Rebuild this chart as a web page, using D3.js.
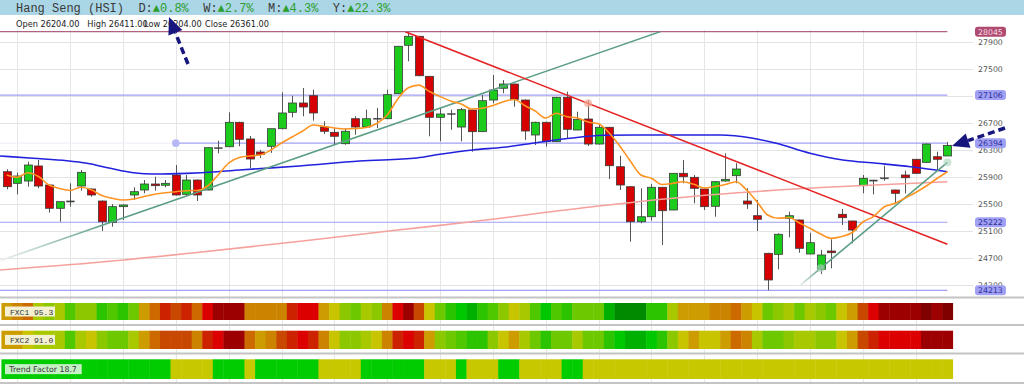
<!DOCTYPE html>
<html><head><meta charset="utf-8">
<script src="https://cdn.jsdelivr.net/npm/d3@7"></script>
<style>html,body{margin:0;padding:0;background:#fff;overflow:hidden}</style>
</head><body><svg id="c" width="1024" height="384"></svg>
<script>
// ---------- DATA ----------
const indexName = "Hang Seng (HSI)";
const changeLabels = ["D:", "W:", "M:", "Y:"];
const changePct = ["0.8%", "2.7%", "4.3%", "22.3%"];
const ohlcLabels = ["Open", "High", "Low", "Close"];
const ohlcLast = ["26204.00", "26411.00", "26204.00", "26361.00"];

const open  = [25971,25799,25833,26056,25774,25429,25527,25759,25715,25537,25221,25453,25626,25700,25789,25770,25922,25636,25848,25700,26318,26341,26703,26456,26263,26347,26608,26851,26989,27097,26633,26555,26386,26756,26633,26756,26756,27127,27844,27977,27384,26777,26826,26633,26885,26564,27033,27207,27270,27033,26515,26703,26416,27073,26589,26752,26381,26629,26045,25749,25230,25304,25740,25404,25947,25888,25715,25459,25833,25912,25537,25319,24762,24747,25281,25256,24752,24525,24796,25340,25241,25764,25838,25873,25700,25922,26155,26110,26193,26204];
const high  = [26007,25956,26119,26144,25780,25527,25799,25996,25725,25545,25493,25488,25740,25848,25897,25848,26070,25922,25855,26330,26430,26851,26710,26500,26293,26610,27147,27097,27211,27186,26718,26618,26618,26792,26890,26915,27186,27835,28045,27985,27390,26915,26890,26915,26890,27107,27404,27330,27275,27040,26712,26710,27080,27156,26860,27033,26663,26635,26208,25755,25725,25789,25745,25950,26144,25922,25725,25833,26244,26096,25725,25552,24770,25058,25378,25260,25067,24811,24970,25419,25245,25922,25850,26060,25705,25986,26160,26390,26267,26411];
const low   = [25710,25636,25749,25725,25364,25230,25453,25690,25601,25093,25156,25256,25552,25651,25690,25740,25620,25626,25537,25695,26244,26335,26347,26026,26174,26250,26600,26777,26792,26727,26530,26371,26371,26519,26618,26618,26750,27120,27607,27385,26496,26421,26593,26421,26267,26560,26984,27133,26934,26441,26367,26341,26410,26466,26585,26352,26375,25863,25700,24934,25207,25245,24885,25400,25799,25503,25404,25304,25823,25799,25419,25093,24213,24525,24999,24771,24750,24456,24540,25181,24910,25651,25636,25838,25503,25651,25940,26105,25996,26204];
const close = [25749,25907,26070,25759,25429,25527,25530,25962,25626,25230,25453,25478,25675,25789,25764,25799,25626,25848,25626,26327,26320,26703,26451,26159,26226,26608,26841,26989,26930,26841,26570,26496,26570,26633,26756,26750,27112,27829,27977,27393,26777,26826,26820,26890,26564,27023,27181,27270,27044,26574,26703,26416,27073,26599,26747,26381,26629,26060,25774,25230,25304,25740,25393,25947,25897,25725,25453,25823,25858,26011,25493,25266,24367,25044,25319,24836,24919,24737,24771,25290,25107,25873,25840,25873,25651,25882,25947,26381,26155,26361];

// orange short moving average, read at every candle
const maShort = [25922,25888,25956,25900,25774,25722,25693,25740,25703,25618,25577,25552,25567,25604,25638,25660,25675,25690,25693,25759,25922,26100,26181,26204,26218,26293,26396,26485,26574,26663,26641,26618,26604,26611,26626,26685,26811,27048,27214,27253,27159,27085,27019,26974,26900,26910,26952,27008,27041,26952,26870,26767,26836,26786,26767,26707,26681,26544,26352,26130,25922,25873,25781,25798,25823,25784,25730,25752,25781,25823,25700,25522,25330,25281,25293,25211,25133,25048,24984,25011,25070,25226,25307,25448,25500,25581,25663,25759,25870,25971];
// blue medium moving average (candle index, value)
const maMidIdx = [-0.63,2.5,5.7,7.6,9.8,12,13.9,17,19.9,22,27.7,33.4,38.8,41,44.1,47,50.1,53.3,56.4,59.6,62.8,67.5,70.6,72.8,76,79.1,82.3,85.5,89];
const maMidVal = [26204,26170,26134,26096,26021,25956,25937,25947,25971,25996,26056,26130,26174,26229,26293,26333,26401,26466,26510,26515,26515,26515,26466,26392,26244,26144,26096,26045,25971];
// salmon long moving average
const maLongIdx = [-0.63,9,18,28,37,44,56,67,78,89];
const maLongVal = [24515,24633,24774,24944,25107,25230,25463,25633,25744,25823];

// trend lines (candle index, value)
const resistIdx = [37.7, 89];   const resistVal = [28045, 24898];
const resistMarkIdx = 55;
const support1Idx = [-0.63, 62.2]; const support1Val = [24653, 28065];
const support2Idx = [75, 89];   const support2Val = [24278, 26110];
const support2MarkIdx = [77, 89];

// price axis
const tickVals = [27900,27500,27100,26700,26300,25900,25500,25100,24700,24300];
const topLevel = 28045;
const levels = [27106, 26394, 25222, 24213];
const levelStart = [-0.63, 16, -0.63, -0.63];

// indicator strips (0 = strongest bearish ... 16 = strongest bullish)
const fxc1 = [7,6,5,9,10,9,12,10,10,13,12,13,11,7,5,3,4,3,5,2,1,1,1,6,6,6,6,3,2,2,7,8,10,11,9,10,6,2,1,4,8,11,13,14,15,13,12,10,8,9,12,14,12,13,11,11,11,15,16,16,16,13,13,9,7,7,7,6,6,5,7,8,11,10,9,11,9,10,11,8,7,4,2,1,1,1,1,0,1,0];
const fxc2 = [7,7,8,9,9,9,12,9,8,10,11,11,9,7,5,4,4,4,6,3,2,1,1,5,7,6,4,3,2,3,6,8,10,10,9,8,6,3,2,3,7,10,11,12,13,13,10,8,7,9,11,13,11,11,9,11,11,13,14,15,15,14,13,10,8,7,8,8,7,5,6,9,11,11,10,9,9,10,10,8,7,4,3,2,2,2,2,1,1,1];
const trend = [1,1,1,1,1,1,1,1,1,1,1,1,1,1,1,1,0,0,0,0,1,1,1,0,1,1,1,1,1,1,0,0,0,0,1,1,1,1,1,1,0,0,0,1,0,0,0,1,1,0,0,0,0,1,1,0,0,0,0,0,0,0,0,0,0,0,0,0,0,0,0,0,0,0,0,0,0,0,0,0,0,0,0,0,0,0,0,0,0,0];
const stripLabels = ["FXC1 95.3", "FXC2 91.0", "Trend Factor 18.7"];

// ---------- DRAW ----------
const W = 1024, H = 384;
const svg = d3.select('#c');
const n = open.length;
const x = d3.scaleLinear().domain([0, n - 1]).range([6.7, 947.4]);
const y = d3.scaleLinear().domain([24300, 27900]).range([284.5, 41.5]);
const cw = x(1) - x(0);
const AX = "DejaVu Sans, Verdana, sans-serif";

const defs = svg.append('defs');
defs.append('clipPath').attr('id', 'plot').append('rect')
  .attr('x', 0).attr('y', y(topLevel)).attr('width', 975).attr('height', 297 - y(topLevel));
function grad(id, x1, x2) {
  const g = defs.append('linearGradient').attr('id', id).attr('gradientUnits', 'userSpaceOnUse')
    .attr('x1', x1).attr('x2', x2).attr('y1', 0).attr('y2', 0);
  g.append('stop').attr('offset', 0).attr('stop-color', '#eef1ef');
  g.append('stop').attr('offset', 1).attr('stop-color', '#5c9f84');
}
grad('g1', x(support1Idx[0]), x(9.5));
grad('g2', x(support2Idx[0]), x(77));

// header
svg.append('rect').attr('x', 0).attr('y', 0).attr('width', W).attr('height', 15).attr('fill', '#aad6e6');
const hdr = svg.append('text').attr('y', 11.5).attr('font-family', 'Liberation Mono, monospace')
  .attr('font-size', 12).attr('fill', '#3a3a3a');
hdr.append('tspan').attr('x', 16).text(indexName);
changeLabels.forEach((l, k) => {
  hdr.append('tspan').attr('x', 16 + 7.2 * (17 + 9 * k)).text(l);
  hdr.append('tspan').attr('fill', '#2e9e2e').text('\u25B2' + changePct[k]);
});
const ohlcX = [16, 87.3, 144, 205];
ohlcLabels.forEach((l, k) => {
  svg.append('text').attr('x', ohlcX[k]).attr('y', 26.5).attr('font-family', AX)
    .attr('font-size', 8.2).attr('fill', '#222').text(l + ' ' + ohlcLast[k]);
});

// grid
const grid = svg.append('g');
grid.selectAll('line.h').data(tickVals).enter().append('line')
  .attr('x1', 0).attr('x2', 973).attr('y1', d => Math.round(y(d)) + 0.5).attr('y2', d => Math.round(y(d)) + 0.5)
  .attr('stroke', '#e3e3e3');
grid.selectAll('line.v').data(d3.range(1, n, 5)).enter().append('line')
  .attr('x1', d => Math.round(x(d)) + 0.5).attr('x2', d => Math.round(x(d)) + 0.5)
  .attr('y1', 30).attr('y2', H).attr('stroke', '#e6e6e6');

// axis
const axis = d3.axisRight(y).tickValues(tickVals).tickSize(0).tickPadding(0).tickFormat(d3.format('d'));
const ag = svg.append('g').attr('transform', 'translate(978,0)').call(axis);
ag.select('.domain').remove();
ag.selectAll('text').attr('font-family', AX).attr('font-size', 7.8).attr('fill', '#555');

// level lines
svg.append('line').attr('x1', 0).attr('x2', x(n - 1)).attr('y1', y(topLevel)).attr('y2', y(topLevel))
  .attr('stroke', '#9c3a66').attr('stroke-width', 1);
svg.append('line').attr('x1', 0).attr('x2', x(levelStart[1])).attr('y1', y(levels[1])).attr('y2', y(levels[1]))
  .attr('stroke', '#ececf8').attr('stroke-width', 1);
svg.selectAll('line.lv').data(levels).enter().append('line')
  .attr('x1', (d, k) => Math.max(0, x(levelStart[k]))).attr('x2', x(n - 1))
  .attr('y1', d => y(d)).attr('y2', d => y(d)).attr('stroke', '#a0a0f4').attr('stroke-width', 1.2);
svg.append('circle').attr('cx', x(levelStart[1])).attr('cy', y(levels[1])).attr('r', 3.8).attr('fill', '#b8b8f6');

// strips
const palette = ['#800000','#9c0000','#dc0000','#cc2200','#c84800','#cc6a00','#cc8400','#cc9c00','#c8c400','#a8c800','#8cc800','#6ec800','#50c800','#2cc400','#00c800','#00b000','#008a00'];
const trendCol = ['#c8c800', '#00cc00'];
[297.5, 325, 353.5, 383].forEach(yy => svg.append('line').attr('x1', 0).attr('x2', W)
  .attr('y1', yy).attr('y2', yy).attr('stroke', '#c4c4c4').attr('stroke-width', 2));
const strips = [{v: fxc1, y0: 303, h: 17, col: d => palette[d]},
                {v: fxc2, y0: 330.7, h: 18.3, col: d => palette[d]},
                {v: trend, y0: 359.3, h: 19.7, col: d => trendCol[d]}];
strips.forEach((s, k) => {
  svg.append('g').selectAll('rect').data(s.v).enter().append('rect')
    .attr('x', (d, i) => x(i) - cw / 2).attr('width', cw + 0.4)
    .attr('y', s.y0).attr('height', s.h).attr('fill', s.col);
  const mono = k < 2;
  const bw = mono ? 50 : 76.7;
  svg.append('rect').attr('x', 5).attr('y', s.y0 + s.h / 2 - 5).attr('width', bw).attr('height', 10)
    .attr('fill', mono ? '#f4f0d2' : '#c6f0c6');
  svg.append('text').attr('x', mono ? 10 : 9.3).attr('y', s.y0 + s.h / 2 + 3)
    .attr('font-family', mono ? 'Liberation Mono, monospace' : AX)
    .attr('font-size', mono ? 8 : 7.8).attr('fill', '#333').text(stripLabels[k]);
});

// plot content
const plot = svg.append('g').attr('clip-path', 'url(#plot)');
const lineI = d3.line().x(d => x(d[0])).y(d => y(d[1])).curve(d3.curveMonotoneX);

// candles
const cg = plot.append('g');
d3.range(n).forEach(i => {
  const up = close[i] >= open[i];
  cg.append('line').attr('x1', Math.round(x(i)) + 0.5).attr('x2', Math.round(x(i)) + 0.5)
    .attr('y1', y(high[i])).attr('y2', y(low[i])).attr('stroke', '#555').attr('stroke-width', 1);
  const t = y(Math.max(open[i], close[i])), b = y(Math.min(open[i], close[i]));
  const doji = b - t < 1.2;
  cg.append('rect').attr('x', Math.round(x(i)) - 3.5).attr('width', 8)
    .attr('y', doji ? t - 0.6 : t).attr('height', doji ? 1.2 : b - t)
    .attr('fill', doji ? '#444' : (up ? '#1ccc1c' : '#d60000'))
    .attr('stroke', '#3a3a3a').attr('stroke-width', doji ? 0.3 : 0.8);
});

// moving averages
plot.append('path').attr('d', lineI(maLongIdx.map((d, k) => [d, maLongVal[k]])))
  .attr('fill', 'none').attr('stroke', '#f6a09c').attr('stroke-width', 1.6);
plot.append('path').attr('d', lineI(maMidIdx.map((d, k) => [d, maMidVal[k]])))
  .attr('fill', 'none').attr('stroke', '#2222dd').attr('stroke-width', 1.6);

// trend lines
const lineL = d3.line().x(d => x(d[0])).y(d => y(d[1]));
plot.append('path').attr('d', lineL(support1Idx.map((d, k) => [d, support1Val[k]])))
  .attr('stroke', 'url(#g1)').attr('stroke-width', 1.6).attr('fill', 'none');
plot.append('path').attr('d', lineL(support2Idx.map((d, k) => [d, support2Val[k]])))
  .attr('stroke', 'url(#g2)').attr('stroke-width', 1.6).attr('fill', 'none');
const s2 = d3.scaleLinear().domain(support2Idx).range(support2Val);
support2MarkIdx.forEach(i => plot.append('circle').attr('cx', x(i)).attr('cy', y(s2(i))).attr('r', 4)
  .attr('fill', '#a8d4bc').attr('opacity', 0.6));
plot.append('path').attr('d', lineL(resistIdx.map((d, k) => [d, resistVal[k]])))
  .attr('stroke', '#e52222').attr('stroke-width', 1.6).attr('fill', 'none');
const rs = d3.scaleLinear().domain(resistIdx).range(resistVal);
plot.append('circle').attr('cx', x(resistMarkIdx)).attr('cy', y(rs(resistMarkIdx))).attr('r', 4)
  .attr('fill', '#f4a890').attr('opacity', 0.7);

plot.append('path').attr('d', lineI(maShort.map((d, i) => [i, d])))
  .attr('fill', 'none').attr('stroke', '#ff9422').attr('stroke-width', 1.6);

// highlighted axis labels
const hl = [{v: topLevel, f: '#b04a70', t: '#f6dce6'}].concat(levels.map(v => ({v, f: '#a0a0f4', t: '#30309a'})));
hl.forEach(h => {
  svg.append('rect').attr('x', 975).attr('y', y(h.v) - 5).attr('width', 31).attr('height', 10)
    .attr('rx', 3).attr('fill', h.f);
  svg.append('text').attr('x', 978).attr('y', y(h.v) + 3).attr('font-family', AX)
    .attr('font-size', 7.8).attr('fill', h.t).text(h.v);
});

// arrows
function arrow(tail, tip) {
  const dx = tip[0] - tail[0], dy = tip[1] - tail[1], L = Math.hypot(dx, dy);
  const ux = dx / L, uy = dy / L, hl = 17, hw = 7.5;
  const bx = tip[0] - ux * hl, by = tip[1] - uy * hl;
  svg.append('line').attr('x1', tail[0]).attr('y1', tail[1]).attr('x2', bx).attr('y2', by)
    .attr('stroke', '#16167e').attr('stroke-width', 3.5).attr('stroke-dasharray', '7,4');
  svg.append('path').attr('d', `M${tip[0]},${tip[1]}L${bx - uy * hw},${by + ux * hw}L${bx + uy * hw},${by - ux * hw}Z`)
    .attr('fill', '#16167e');
}
arrow([188, 64], [169, 17]);
arrow([1005, 128], [952, 146]);
</script></body></html>
